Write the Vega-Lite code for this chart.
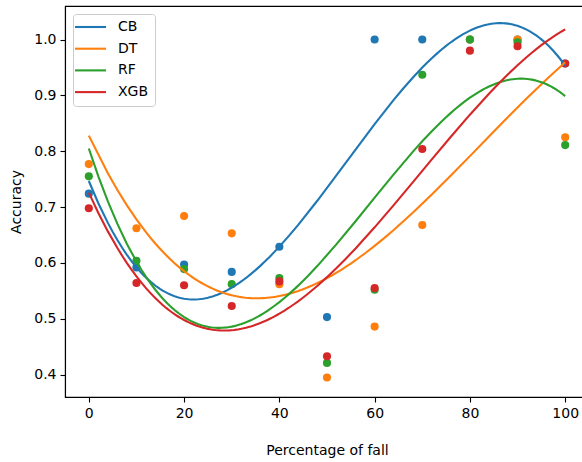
{
  "$schema": "https://vega.github.io/schema/vega-lite/v6.json",
  "width": 524,
  "height": 391,
  "autosize": "none",
  "padding": {"left": 65, "top": 6, "right": 0, "bottom": 65},
  "background": "white",
  "config": {
    "font": "DejaVu Sans",
    "view": {"stroke": "black", "strokeWidth": 1.1},
    "axis": {
      "grid": false,
      "domainColor": "black",
      "domainWidth": 1.1,
      "tickColor": "black",
      "tickWidth": 1.1,
      "tickSize": 5,
      "labelFontSize": 14,
      "labelColor": "black",
      "labelPadding": 4,
      "titleFontSize": 14,
      "titleFontWeight": "normal",
      "titleColor": "black"
    },
    "legend": {
      "labelFontSize": 14,
      "labelColor": "black"
    }
  },
  "data": {
    "values": [
      {"model": "CB", "x": 0, "acc": 0.724},
      {"model": "CB", "x": 10, "acc": 0.592},
      {"model": "CB", "x": 20, "acc": 0.597},
      {"model": "CB", "x": 30, "acc": 0.584},
      {"model": "CB", "x": 40, "acc": 0.629},
      {"model": "CB", "x": 50, "acc": 0.503},
      {"model": "CB", "x": 60, "acc": 1.0},
      {"model": "CB", "x": 70, "acc": 1.0},
      {"model": "CB", "x": 80, "acc": 1.0},
      {"model": "CB", "x": 90, "acc": 1.0},
      {"model": "CB", "x": 100, "acc": 0.957},
      {"model": "DT", "x": 0, "acc": 0.777},
      {"model": "DT", "x": 10, "acc": 0.662},
      {"model": "DT", "x": 20, "acc": 0.684},
      {"model": "DT", "x": 30, "acc": 0.653},
      {"model": "DT", "x": 40, "acc": 0.562},
      {"model": "DT", "x": 50, "acc": 0.395},
      {"model": "DT", "x": 60, "acc": 0.486},
      {"model": "DT", "x": 70, "acc": 0.668},
      {"model": "DT", "x": 80, "acc": 1.0},
      {"model": "DT", "x": 90, "acc": 1.0},
      {"model": "DT", "x": 100, "acc": 0.825},
      {"model": "RF", "x": 0, "acc": 0.755},
      {"model": "RF", "x": 10, "acc": 0.604},
      {"model": "RF", "x": 20, "acc": 0.589},
      {"model": "RF", "x": 30, "acc": 0.562},
      {"model": "RF", "x": 40, "acc": 0.573},
      {"model": "RF", "x": 50, "acc": 0.421},
      {"model": "RF", "x": 60, "acc": 0.552},
      {"model": "RF", "x": 70, "acc": 0.937},
      {"model": "RF", "x": 80, "acc": 1.0},
      {"model": "RF", "x": 90, "acc": 0.995},
      {"model": "RF", "x": 100, "acc": 0.811},
      {"model": "XGB", "x": 0, "acc": 0.698},
      {"model": "XGB", "x": 10, "acc": 0.564},
      {"model": "XGB", "x": 20, "acc": 0.56},
      {"model": "XGB", "x": 30, "acc": 0.523},
      {"model": "XGB", "x": 40, "acc": 0.567},
      {"model": "XGB", "x": 50, "acc": 0.433},
      {"model": "XGB", "x": 60, "acc": 0.555},
      {"model": "XGB", "x": 70, "acc": 0.804},
      {"model": "XGB", "x": 80, "acc": 0.98},
      {"model": "XGB", "x": 90, "acc": 0.988},
      {"model": "XGB", "x": 100, "acc": 0.957}
    ]
  },
  "layer": [
    {
      "mark": {"type": "point", "filled": true, "size": 66, "opacity": 1},
      "encoding": {
        "x": {"field": "x", "type": "quantitative", "scale": {"domain": [-5, 105], "nice": false, "zero": false}, "axis": {"values": [0, 20, 40, 60, 80, 100], "title": "Percentage of fall", "titlePadding": 23}},
        "y": {"field": "acc", "type": "quantitative", "scale": {"domain": [0.36, 1.06], "nice": false, "zero": false}, "axis": {"values": [0.4, 0.5, 0.6, 0.7, 0.8, 0.9, 1.0], "format": ".1f", "title": "Accuracy", "titlePadding": 10}},
        "color": {"field": "model", "type": "nominal", "scale": {"domain": ["CB", "DT", "RF", "XGB"], "range": ["#1f77b4", "#ff7f0e", "#2ca02c", "#d62728"]}}
      }
    },
    {
      "transform": [
        {"regression": "acc", "on": "x", "groupby": ["model"], "method": "poly", "order": 3, "extent": [0, 100]}
      ],
      "mark": {"type": "line", "strokeWidth": 2.1},
      "encoding": {
        "x": {"field": "x", "type": "quantitative"},
        "y": {"field": "acc", "type": "quantitative"},
        "color": {
          "field": "model", "type": "nominal",
          "legend": {
            "title": null,
            "orient": "top-left",
            "offset": 8,
            "symbolType": "M-2.84,0L5.16,0",
            "symbolSize": 60,
            "symbolStrokeWidth": 2.1,
            "symbolOpacity": 1,
            "padding": 6,
            "rowPadding": 7.7,
            "labelOffset": 25,
            "strokeColor": "#cccccc",
            "fillColor": "white",
            "cornerRadius": 3
          }
        }
      }
    }
  ]
}
